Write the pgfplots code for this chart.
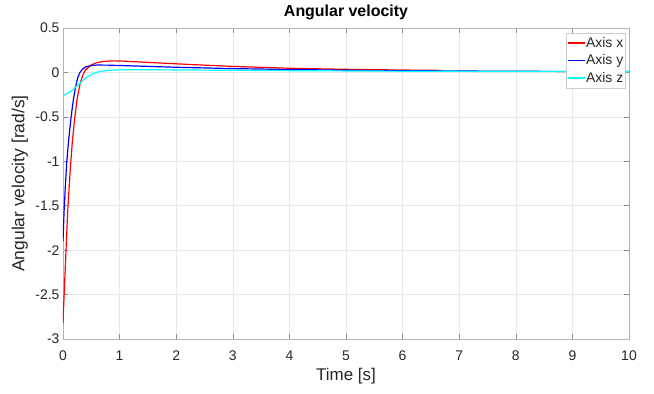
\documentclass[border=0pt]{standalone}
\usepackage{fontspec}
\setmainfont{Liberation Sans}
\usepackage{pgfplots}
\pgfplotsset{compat=1.18}
\definecolor{cyanline}{rgb}{0,1,1}
\definecolor{blueline}{rgb}{0,0,1}
\definecolor{redline}{rgb}{1,0,0}
\begin{document}
\begin{tikzpicture}
\begin{axis}[name=ax, scale only axis, width=566bp, height=311bp,
  xmin=0, xmax=10, ymin=-3, ymax=0.5,
  xtick={0,1,...,10}, ytick={-3,-2.5,-2,-1.5,-1,-0.5,0,0.5},
  grid=major, major grid style={color=black!9, line width=0.5pt},
  axis line style={color=black!30, line width=0.6pt},
  tick style={color=black!45, line width=0.6pt}, major tick length=5bp,
  tick align=inside,
  ticklabel style={font=\fontsize{14}{14}\selectfont, text=black!85},
  xticklabel style={yshift=-8bp},
  /pgf/number format/assume math mode=true,
  yticklabel style={/pgf/number format/fixed},
  title={\bfseries Angular velocity},
  title style={font=\fontsize{16}{18}\selectfont, inner sep=0pt, at={(axis description cs:0.5,1.026)}, anchor=south, yshift=-6pt},
  xlabel={Time [s]}, ylabel={Angular velocity [rad/s]},
  xlabel style={font=\fontsize{17}{19}\selectfont, text=black!85, at={(axis description cs:0.5,-0.119)}, anchor=center},
  ylabel style={font=\fontsize{17.5}{19}\selectfont, text=black!85, at={(axis description cs:-0.076,0.5)}, anchor=center},
  legend style={at={(1,1)}, anchor=north east, xshift=-4bp, yshift=-5bp, draw=black!20, fill=white,
    font=\fontsize{14}{16}\selectfont, row sep=4pt, inner xsep=1pt, inner ysep=3pt,
    nodes={inner xsep=0.5pt, inner ysep=1pt, text=black!85}},
  legend cell align=left,
  legend image code/.code={\draw[#1, line width=1.3pt] (0bp,0bp) -- (17bp,0bp);},
]
\addplot[color=redline, line width=1.2pt] coordinates {
(0,-2.82) (0.02,-2.5) (0.04,-2.2) (0.06,-1.9) (0.08,-1.6) (0.1,-1.38) (0.13,-1.08)
(0.16,-0.82) (0.2,-0.55) (0.25,-0.3) (0.3,-0.13) (0.35,-0.03) (0.4,0.03) (0.5,0.085)
(0.6,0.11) (0.7,0.123) (0.8,0.128) (0.9,0.13) (1.0,0.129) (1.5,0.113) (2,0.097)
(2.5,0.082) (3,0.068) (3.5,0.057) (4,0.047) (5,0.035) (6,0.027) (6.7,0.023)};
\addlegendentry{Axis x}
\addplot[color=blueline, line width=1.2pt] coordinates {
(0,-1.9) (0.02,-1.55) (0.04,-1.3) (0.065,-1.02) (0.1,-0.76) (0.14,-0.52) (0.18,-0.32)
(0.22,-0.17) (0.26,-0.06) (0.3,0.0) (0.35,0.04) (0.4,0.062) (0.5,0.078) (0.6,0.083)
(0.8,0.082) (1,0.078) (1.5,0.068) (2,0.058) (3,0.043) (4,0.033) (5,0.025) (6,0.02)
(7,0.016) (8,0.013) (9,0.011) (10,0.01)};
\addlegendentry{Axis y}
\addplot[color=cyanline, line width=1.2pt] coordinates {
(0,-0.26) (0.1,-0.23) (0.2,-0.18) (0.27,-0.14) (0.35,-0.09) (0.45,-0.04) (0.55,-0.01)
(0.65,0.01) (0.8,0.024) (1,0.029) (1.5,0.03) (2,0.028) (3,0.024) (4,0.02) (5,0.017)
(6,0.014) (7,0.012) (8,0.01) (9,0.009) (10,0.008)};
\addlegendentry{Axis z}
\end{axis}
\pgfresetboundingbox
\path[use as bounding box] ([shift={(-63bp,-55bp)}]ax.south west) rectangle ([shift={(25bp,28bp)}]ax.north east);
\end{tikzpicture}
\end{document}
